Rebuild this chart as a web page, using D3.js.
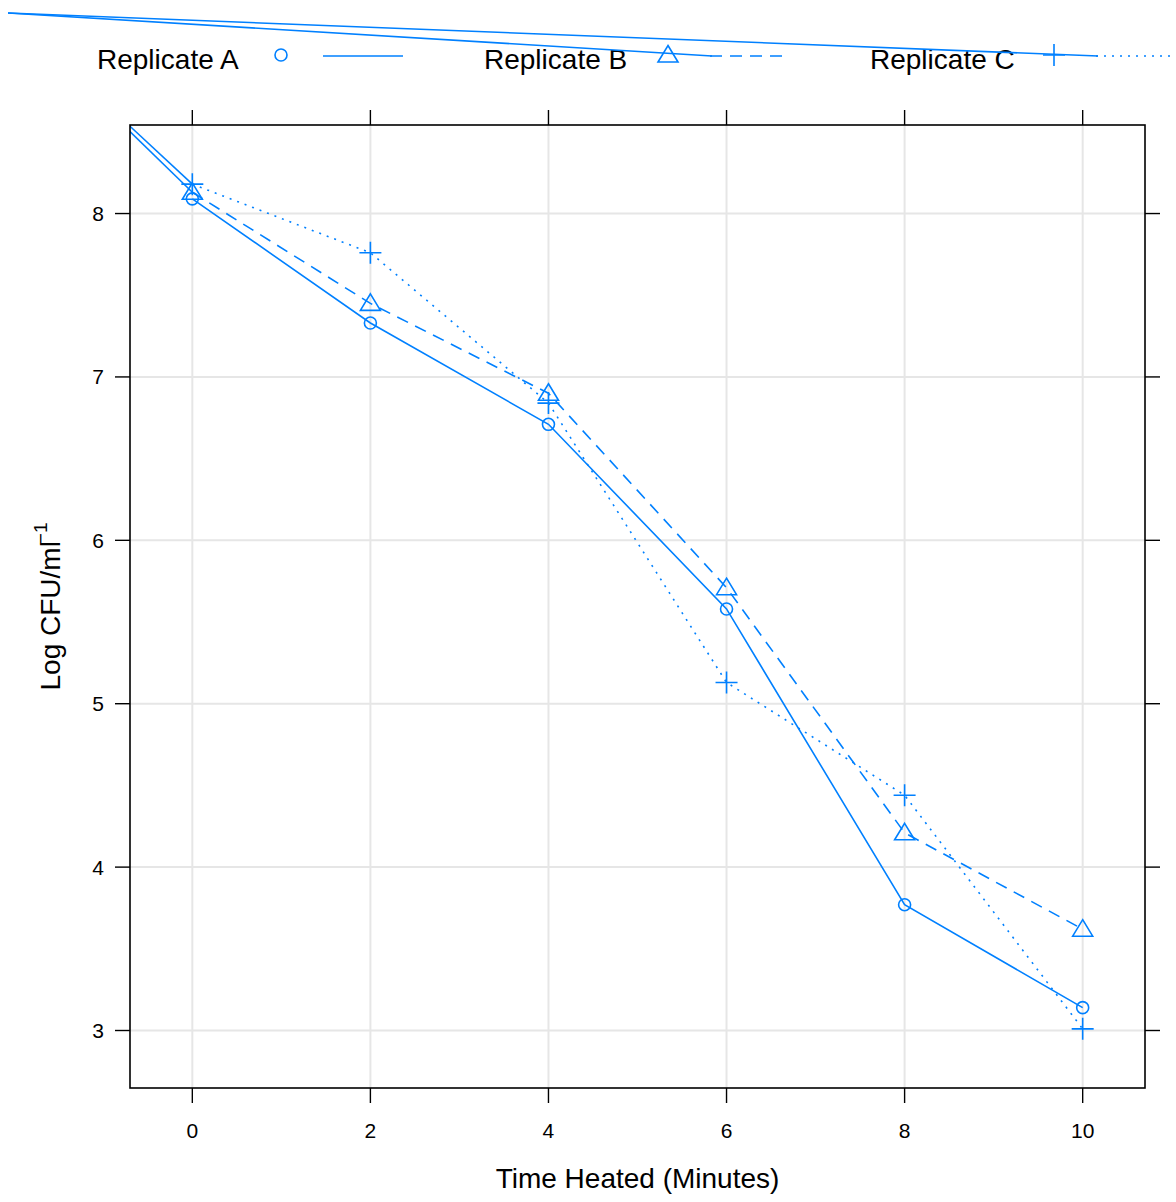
<!DOCTYPE html>
<html>
<head>
<meta charset="utf-8">
<script src="https://cdn.jsdelivr.net/npm/d3@7"></script>
<style>
  html, body { margin: 0; padding: 0; background: #fff; }
  svg { display: block; font-family: "Liberation Sans", Arial, Helvetica, sans-serif; }
</style>
</head>
<body>
<svg id="chart" width="1176" height="1202"></svg>
<script>
// Heating time (minutes) and log counts for three replicates
const times = [0, 2, 4, 6, 8, 10];
const replicateA = [8.09, 7.33, 6.71, 5.58, 3.77, 3.14];
const replicateB = [8.13, 7.45, 6.90, 5.71, 4.21, 3.62];
const replicateC = [8.18, 7.76, 6.84, 5.13, 4.44, 3.01];
const seriesNames = ["Replicate A", "Replicate B", "Replicate C"];
const xTicks = [0, 2, 4, 6, 8, 10];
const yTicks = [3, 4, 5, 6, 7, 8];

const blue = "#0080ff";
const svg = d3.select("#chart");

// Panel geometry
const panel = { left: 130, right: 1145, top: 125, bottom: 1088 };
// Point where the pen rests before each patterned stroke begins
const penStart = [8, 13];

// Domains padded by 7% on each side
function padded(ext) {
  const p = (ext[1] - ext[0]) * 0.07;
  return [ext[0] - p, ext[1] + p];
}
const allY = replicateA.concat(replicateB, replicateC);
const x = d3.scaleLinear().domain(padded(d3.extent(times))).range([panel.left, panel.right]);
const y = d3.scaleLinear().domain(padded(d3.extent(allY))).range([panel.bottom, panel.top]);

const series = [
  { name: seriesNames[0], values: replicateA, symbol: "circle", dash: null },
  { name: seriesNames[1], values: replicateB, symbol: "triangle", dash: "12,8" },
  { name: seriesNames[2], values: replicateC, symbol: "plus", dash: "2,6" }
];

function drawSymbol(g, kind, cx, cy) {
  if (kind === "circle") {
    g.append("circle").attr("cx", cx).attr("cy", cy).attr("r", 6)
      .attr("fill", "none").attr("stroke", blue).attr("stroke-width", 1.6);
  } else if (kind === "triangle") {
    g.append("path")
      .attr("d", `M${cx},${cy - 9.5}L${cx + 10},${cy + 7}L${cx - 10},${cy + 7}Z`)
      .attr("fill", "none").attr("stroke", blue).attr("stroke-width", 1.6);
  } else {
    g.append("path")
      .attr("d", `M${cx - 11},${cy}H${cx + 11}M${cx},${cy - 11}V${cy + 11}`)
      .attr("fill", "none").attr("stroke", blue).attr("stroke-width", 1.6);
  }
}

// Clip for the panel contents
svg.append("defs").append("clipPath").attr("id", "panelClip")
  .append("rect")
  .attr("x", panel.left).attr("y", panel.top)
  .attr("width", panel.right - panel.left).attr("height", panel.bottom - panel.top);

// Grid
const grid = svg.append("g");
grid.selectAll("line.v").data(xTicks).join("line")
  .attr("x1", d => x(d)).attr("x2", d => x(d))
  .attr("y1", panel.top).attr("y2", panel.bottom)
  .attr("stroke", "#e6e6e6").attr("stroke-width", 2);
grid.selectAll("line.h").data(yTicks).join("line")
  .attr("y1", d => y(d)).attr("y2", d => y(d))
  .attr("x1", panel.left).attr("x2", panel.right)
  .attr("stroke", "#e6e6e6").attr("stroke-width", 2);

// Series lines and symbols
const plot = svg.append("g").attr("clip-path", "url(#panelClip)");
const line = d3.line().x((d, i) => x(times[i])).y(d => y(d));
series.forEach(s => {
  if (s.dash) {
    // solid lead-in stroke from the pen's resting point
    plot.append("line")
      .attr("x1", penStart[0]).attr("y1", penStart[1])
      .attr("x2", x(times[0])).attr("y2", y(s.values[0]))
      .attr("stroke", blue).attr("stroke-width", 1.6);
  }
  plot.append("path").datum(s.values)
    .attr("d", line)
    .attr("fill", "none").attr("stroke", blue).attr("stroke-width", 1.6)
    .attr("stroke-dasharray", s.dash);
  s.values.forEach((v, i) => drawSymbol(plot, s.symbol, x(times[i]), y(v)));
});

// Panel border
svg.append("rect")
  .attr("x", panel.left).attr("y", panel.top)
  .attr("width", panel.right - panel.left).attr("height", panel.bottom - panel.top)
  .attr("fill", "none").attr("stroke", "#000").attr("stroke-width", 1.6);

// Axes: ticks on all four sides, labels on left and bottom
const tickLen = 15;
const axes = svg.append("g").attr("stroke", "#000").attr("stroke-width", 1.4);
xTicks.forEach(t => {
  axes.append("line").attr("x1", x(t)).attr("x2", x(t)).attr("y1", panel.bottom).attr("y2", panel.bottom + tickLen);
  axes.append("line").attr("x1", x(t)).attr("x2", x(t)).attr("y1", panel.top).attr("y2", panel.top - tickLen);
});
yTicks.forEach(t => {
  axes.append("line").attr("y1", y(t)).attr("y2", y(t)).attr("x1", panel.left).attr("x2", panel.left - tickLen);
  axes.append("line").attr("y1", y(t)).attr("y2", y(t)).attr("x1", panel.right).attr("x2", panel.right + tickLen);
});

svg.append("g").selectAll("text").data(xTicks).join("text")
  .attr("x", d => x(d)).attr("y", 1138)
  .attr("text-anchor", "middle").attr("font-size", 21).attr("fill", "#000")
  .text(d => d);
svg.append("g").selectAll("text").data(yTicks).join("text")
  .attr("x", 104).attr("y", d => y(d)).attr("dy", "0.36em")
  .attr("text-anchor", "end").attr("font-size", 21).attr("fill", "#000")
  .text(d => d);

// Axis titles
svg.append("text")
  .attr("x", (panel.left + panel.right) / 2).attr("y", 1188)
  .attr("text-anchor", "middle").attr("font-size", 28).attr("fill", "#000")
  .text("Time Heated (Minutes)");

const yTitle = svg.append("text")
  .attr("transform", `translate(60,${(panel.top + panel.bottom) / 2}) rotate(-90)`)
  .attr("text-anchor", "middle").attr("font-size", 28).attr("fill", "#000");
yTitle.append("tspan").text("Log CFU/ml");
yTitle.append("tspan").attr("font-size", 19).attr("dy", -13).attr("dx", -3).text("\u22121");

// Legend
const legendX = [97, 484, 870];
const legend = svg.append("g");
series.forEach((s, i) => {
  const x0 = legendX[i];
  legend.append("text").attr("x", x0).attr("y", 69)
    .attr("font-size", 28).attr("fill", "#000").text(s.name);
  drawSymbol(legend, s.symbol, x0 + 184, 55);
  if (s.dash) {
    legend.append("line")
      .attr("x1", penStart[0]).attr("y1", penStart[1])
      .attr("x2", x0 + 228).attr("y2", 56)
      .attr("stroke", blue).attr("stroke-width", 1.6);
  }
  legend.append("line")
    .attr("x1", x0 + 226).attr("x2", x0 + 306).attr("y1", 56).attr("y2", 56)
    .attr("stroke", blue).attr("stroke-width", 1.6)
    .attr("stroke-dasharray", s.dash);
});
</script>
</body>
</html>
